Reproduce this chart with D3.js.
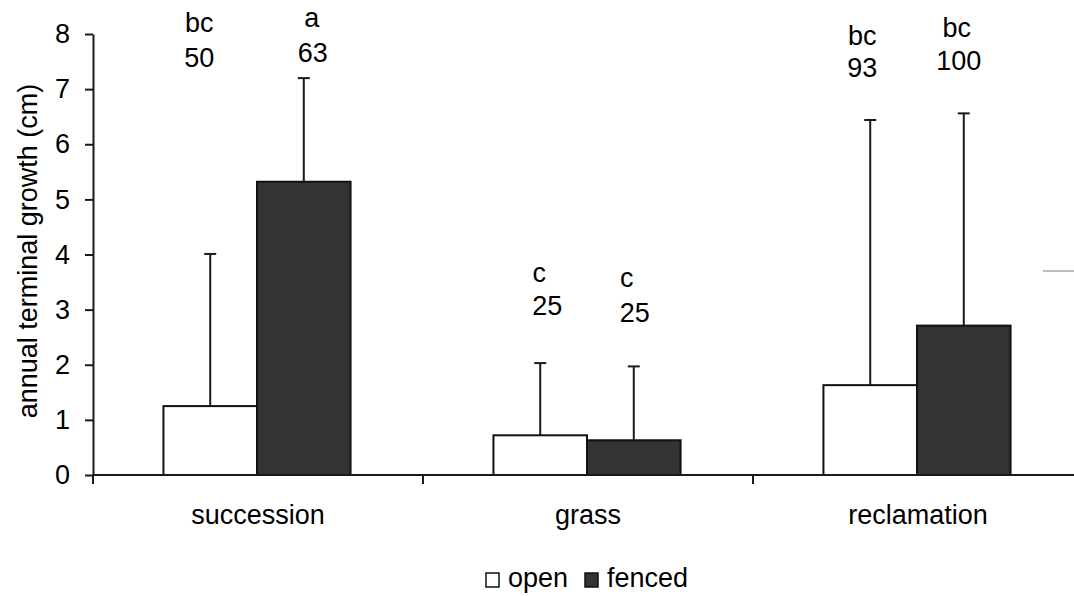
<!DOCTYPE html>
<html>
<head>
<meta charset="utf-8">
<script src="https://cdn.jsdelivr.net/npm/d3@7/dist/d3.min.js"></script>
<style>
  html, body { margin: 0; padding: 0; background: #fff; }
  svg { display: block; font-family: "Liberation Sans", Arial, sans-serif; }
</style>
</head>
<body>
<svg id="chart" width="1074" height="596"></svg>
<script>
// Annual terminal growth by habitat, open vs fenced plots
const categories = ["succession", "grass", "reclamation"];
const seriesNames = ["open", "fenced"];
const meanOpen   = [1.25, 0.72, 1.63];
const meanFenced = [5.32, 0.63, 2.71];
const sdOpen     = [2.76, 1.31, 4.81];
const sdFenced   = [1.88, 1.34, 3.85];
const lettersOpen   = ["bc", "c", "bc"];
const lettersFenced = ["a", "c", "bc"];
const nOpen   = [50, 25, 93];
const nFenced = [63, 25, 100];
const yTicks = [0, 1, 2, 3, 4, 5, 6, 7, 8];

// Placement of the letter / sample-size annotations (y in axis units, dx in px from bar centre)
const annotOpen = [
  { dxL: -11, dxN: -11, yL: 8.04, yN: 7.40 },
  { dxL: -1,  dxN: 7,   yL: 3.50, yN: 2.90 },
  { dxL: -8,  dxN: -8,  yL: 7.80, yN: 7.22 }
];
const annotFenced = [
  { dxL: 8,  dxN: 9,  yL: 8.13, yN: 7.50 },
  { dxL: -7, dxN: 1,  yL: 3.41, yN: 2.78 },
  { dxL: -7, dxN: -5, yL: 7.95, yN: 7.35 }
];

const fills = { open: "#ffffff", fenced: "#333333" };

const rows = categories.map((c, i) => ({
  category: c,
  bars: [
    { series: "open",   mean: meanOpen[i],   sd: sdOpen[i],   letter: lettersOpen[i],   n: nOpen[i],   a: annotOpen[i] },
    { series: "fenced", mean: meanFenced[i], sd: sdFenced[i], letter: lettersFenced[i], n: nFenced[i], a: annotFenced[i] }
  ]
}));

const svg = d3.select("#chart");
const plotLeft = 93, plotRight = 1083, plotTop = 34, plotBottom = 475;
const fontSize = 27;

const x = d3.scaleBand().domain(categories).range([plotLeft, plotRight])
  .paddingInner(0.433).paddingOuter(0.2165);
const xs = d3.scaleBand().domain(seriesNames).range([0, x.bandwidth()]);
const y = d3.scaleLinear().domain([0, 8]).range([plotBottom, plotTop]);

// Bars
const groups = svg.append("g").selectAll("g").data(rows).join("g")
  .attr("transform", d => `translate(${x(d.category) - 1},0)`);

// Error bars (upper whisker only)
groups.selectAll("line.err").data(d => d.bars).join("line")
  .attr("class", "err")
  .attr("x1", d => xs(d.series) + xs.bandwidth() / 2)
  .attr("x2", d => xs(d.series) + xs.bandwidth() / 2)
  .attr("y1", d => y(d.mean))
  .attr("y2", d => y(d.mean + d.sd))
  .attr("stroke", "#1a1a1a").attr("stroke-width", 2);
groups.selectAll("line.cap").data(d => d.bars).join("line")
  .attr("class", "cap")
  .attr("x1", d => xs(d.series) + xs.bandwidth() / 2 - 6)
  .attr("x2", d => xs(d.series) + xs.bandwidth() / 2 + 6)
  .attr("y1", d => y(d.mean + d.sd))
  .attr("y2", d => y(d.mean + d.sd))
  .attr("stroke", "#1a1a1a").attr("stroke-width", 2);

groups.selectAll("rect").data(d => d.bars).join("rect")
  .attr("x", d => xs(d.series))
  .attr("y", d => y(d.mean))
  .attr("width", xs.bandwidth())
  .attr("height", d => y(0) - y(d.mean))
  .attr("fill", d => fills[d.series])
  .attr("stroke", "#111").attr("stroke-width", 2);

// Letters and sample sizes
groups.selectAll("text.letter").data(d => d.bars).join("text")
  .attr("class", "letter")
  .attr("x", d => xs(d.series) + xs.bandwidth() / 2 + d.a.dxL)
  .attr("y", d => y(d.a.yL))
  .attr("text-anchor", "middle").attr("font-size", fontSize).attr("fill", "#000")
  .text(d => d.letter);
groups.selectAll("text.n").data(d => d.bars).join("text")
  .attr("class", "n")
  .attr("x", d => xs(d.series) + xs.bandwidth() / 2 + d.a.dxN)
  .attr("y", d => y(d.a.yN))
  .attr("text-anchor", "middle").attr("font-size", fontSize).attr("fill", "#000")
  .text(d => d.n);

// Y axis
const yAxis = svg.append("g").attr("transform", `translate(${plotLeft},0)`)
  .call(d3.axisLeft(y).tickValues(yTicks).tickFormat(d3.format("d"))
    .tickSize(8).tickSizeOuter(0).tickPadding(15));
yAxis.select(".domain").attr("stroke", "#1a1a1a").attr("stroke-width", 2);
yAxis.selectAll(".tick line").attr("stroke", "#1a1a1a").attr("stroke-width", 2);
yAxis.selectAll(".tick text").attr("font-size", fontSize).attr("fill", "#000")
  .attr("font-family", "Liberation Sans, Arial, sans-serif");

// X axis: labels under categories, ticks at the category boundaries
const xAxis = svg.append("g").attr("transform", `translate(0,${plotBottom})`)
  .call(d3.axisBottom(x).tickSize(0).tickPadding(30));
xAxis.select(".domain").remove();
xAxis.selectAll(".tick text").attr("font-size", fontSize).attr("fill", "#000")
  .attr("font-family", "Liberation Sans, Arial, sans-serif");
svg.append("line")
  .attr("x1", plotLeft).attr("x2", plotRight).attr("y1", y(0)).attr("y2", y(0))
  .attr("stroke", "#1a1a1a").attr("stroke-width", 2);
const boundaries = d3.range(categories.length + 1).map(i => plotLeft + i * x.step());
svg.append("g").selectAll("line").data(boundaries).join("line")
  .attr("x1", d => d).attr("x2", d => d)
  .attr("y1", y(0)).attr("y2", y(0) + 9)
  .attr("stroke", "#1a1a1a").attr("stroke-width", 2);

// Y axis title
svg.append("text")
  .attr("transform", `translate(37,251) rotate(-90)`)
  .attr("text-anchor", "middle").attr("font-size", fontSize).attr("fill", "#000")
  .text("annual terminal growth (cm)");

// Short grey stub at the right edge
svg.append("line")
  .attr("x1", 1043).attr("x2", 1074).attr("y1", y(3.7)).attr("y2", y(3.7))
  .attr("stroke", "#bdbdbd").attr("stroke-width", 2);

// Legend
const legend = svg.append("g").attr("transform", "translate(486,573)");
const legendItems = [
  { name: "open", x: 0 },
  { name: "fenced", x: 99 }
];
legendItems.forEach(it => {
  legend.append("rect").attr("x", it.x).attr("y", 0).attr("width", 13).attr("height", 14)
    .attr("fill", fills[it.name]).attr("stroke", "#111").attr("stroke-width", 1.5);
  legend.append("text").attr("x", it.x + 22).attr("y", 14)
    .attr("font-size", fontSize).attr("fill", "#000").text(it.name);
});
</script>
</body>
</html>
